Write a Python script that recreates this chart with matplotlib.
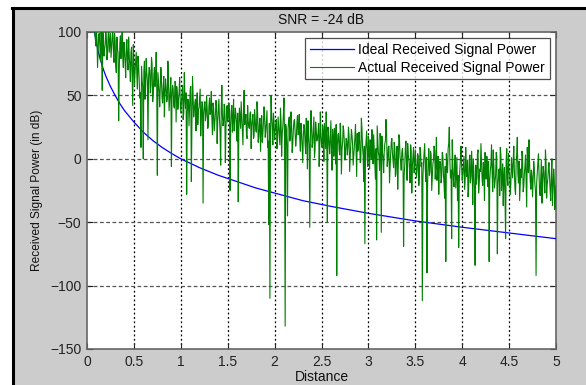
import numpy as np
import matplotlib
matplotlib.use("Agg")
import matplotlib.pyplot as plt
from matplotlib.patches import Rectangle
from matplotlib.lines import Line2D

plt.rcParams['font.family'] = ['Liberation Sans', 'DejaVu Sans']

# ---- data ----
ideal_distance = [0.075, 0.08, 0.09, 0.1, 0.12, 0.14, 0.16, 0.18, 0.2, 0.25, 0.3, 0.35,
                  0.4, 0.5, 0.6, 0.7, 0.8, 0.9, 1.0, 1.2, 1.4, 1.6, 1.8, 2.0, 2.3,
                  2.6, 3.0, 3.5, 4.0, 4.5, 5.0]
ideal_power = [103, 100, 95.5, 91.6, 84.7, 78.9, 73.8, 69.4, 65.4, 57, 50, 43.5,
               38, 29, 21, 14.5, 9, 4.3, 0, -7, -13, -18, -23, -27, -33,
               -37.5, -43, -49, -54, -58.5, -63]

# samples on the 0.0125 grid
actual_power_main = [
    140, 125, 132, 118, 121, 110, 96, 104, 72, 98, 88, 101, 54, 95, 86, 102, 78, 97, 84, 99,
    88, 104, 76, 93, 68, 86, 30, 91, 79, 101, 72, 85, 64, 94, 70, 82, 61, 88, 42, 78,
    69, 84, 55, 74, 48, 9, 62, 0, 77, 58, 68, 15, 72, 52, 80, 45, 66, 57, 84, -13,
    60, 41, 72, 48, 57, 33, 63, 45, 77, 38, 55, -6, 58, 42, 61, 29, 52, 47, 64, 36,
    50, 31, 68, 40, -28, 47, 26, 55, -18, 65, 33, 44, 22, 52, 39, 48, 18, 45, -35, 41,
    30, 49, 24, 42, 35, 53, 19, 40, 28, 46, 12, 38, 31, -5, 58, 26, 43, -3, 36, 29,
    44, -25, 38, 21, 47, 27, 35, 14, -34, 40, 24, 33, 11, 54, 30, 19, 42, 25, 36, 8,
    31, 16, 39, 22, 45, 13, 28, 6, 34, 20, 41, 17, 30, 9, -52, -110, 50, 24, 36, 15,
    27, 8, 33, 18, 40, 2, 25, 48, -132, 21, -45, 30, 14, 37, 5, 23, 31, 10, 28, 19,
    35, 6, 22, -3, 27, 12, 32, -8, 18, -54, 38, 9, 24, 1, 29, 14, 20, -6, 37, 11,
    26, -2, 17, 37, -50, 21, 4, 30, -9, 15, 24, -4, -92, 19, 7, 28, -12, 13, 22, -1,
    16, 3, 25, -10, 11, 19, -5, 8, 27, -14, 6, 21, -3, 32, 9, -18, -67, 14, 0, 18,
    -8, 10, 23, -4, 7, -16, -64, 15, 2, 20, -58, 5, -11, 12, 31, -6, 9, -19, 4, 16,
    -2, 13, -14, 6, -24, 19, 1, -9, 8, -69, -5, 14, -17, 3, -8, 11, -27, 2, -11, 7,
    -15, 4, -21, 9, -6, -112, -3, 12, -18, -90, -1, -13, 6, -25, -4, 10, -16, 17, -9, -28,
    -2, -19, 5, -12, -31, -81, -7, 8, 25, -15, -63, -4, -22, 3, -10, -33, -70, -8, 10, -17,
    -5, -24, 9, -14, -30, -2, -19, 6, -36, -11, -84, -20, 4, -27, -8, 12, -17, -3, -33, -13,
    2, -22, -81, -9, 11, -26, -6, -18, 5, -75, -12, -29, 3, -16, -37, -7, -63, 8, -21, -10,
    -28, 1, -15, 10, -24, -4, 17, -19, -33, -8, 6, -26, -12, 3, -38, -5, 15, -17, -9, -30,
    -2, -20, -92, -11, 4, -27, -14, -35, -6, -22, 7, -31, -16, -3, -25, -12, -37, -8, -40, -21,
]
# samples half-way between them
actual_power_mid = [
    135, 128, 120, 126, 112, 108, 101, 89, 94, 85, 99, 77, 92, 100, 81, 90, 95, 83, 103, 91,
    80, 95, 85, 99, 74, 96, 84, 70, 97, 87, 80, 92, 76, 88, 77, 96, 73, 84, 66, 90,
    58, 76, 66, 81, 63, 52, 73, 56, 69, 47, 79, 61, 64, 70, 58, 75, 51, 72, 63, 55,
    68, 53, 58, 62, 44, 65, 51, 56, 48, 61, 46, 64, 50, 55, 40, 60, 57, 39, 51, 46,
    43, 58, 36, 49, 52, 35, 46, 41, 57, 29, 50, 38, 47, 43, 27, 40, 55, 33, 44, 36,
    45, 34, 39, 27, 48, 37, 32, 44, 22, 35, 41, 30, 47, 21, 39, 34, 29, 40, 24, 42,
    33, 37, 26, 42, 31, 22, 40, 29, 36, 25, 32, 45, 20, 38, 27, 35, 16, 30, 24, 37,
    26, 35, 18, 30, 21, 37, 17, 32, 25, 13, 29, 33, 22, 38, 14, 28, 19, 34, 11, 30,
    22, 31, 14, 26, 11, 29, 20, 35, 16, 27, 9, 24, 33, 18, 26, 12, 30, 21, 16, 34,
    20, 15, 28, 9, 18, 24, 4, 21, 30, 11, 17, 26, 13, 33, 7, 23, 16, 28, 10, 19,
    9, 20, 28, 8, 14, 25, 11, 18, 6, 23, 2, 17, 27, 10, 20, 3, 16, 8, 26, 12,
    6, 14, 9, 18, 1, 23, 12, 2, 17, 5, 20, 11, 14, -2, 24, 3, 10, 6, 22, -6,
    7, 15, 0, 12, 19, -3, 8, 26, 5, -9, 11, 18, 1, 6, 14, 21, -2, 10, -7, 13,
    4, -7, 9, -12, 10, -5, 16, -2, 5, 1, -13, 8, -4, 12, -1, -19, 6, -6, 9, -3,
    -4, -10, 2, -12, 6, -3, -14, 5, -8, 1, -20, 8, -10, 3, -15, -1, 7, -5, -17, 2,
    -8, -4, -14, 2, -20, -6, 4, -11, 12, -2, -9, 15, -17, -5, -23, 1, -13, -19, 0, -6,
    -12, 2, -18, -9, -1, -23, 3, -14, -7, 0, -24, -5, -15, 7, -19, -10, -2, -21, -8, 5,
    -16, -6, -2, -17, -4, -11, 7, -23, -13, 2, -20, -8, 9, -25, -4, -14, -30, -1, -17, 4,
    -13, -20, -7, -1, -10, -28, 4, -12, -2, -21, -15, 1, -22, -6, -17, 9, -11, -3, -24, -14,
    -16, -8, -25, -19, -4, -13, -29, -1, -17, -10, -27, -3, -20, -8, -14, -33, 0, -24, -15, -28,
]

title_text = "SNR = -24 dB"
xlabel_text = "Distance"
ylabel_text = "Received Signal Power (in dB)"
legend_labels = ["Ideal Received Signal Power", "Actual Received Signal Power"]
xticks = [0, 0.5, 1, 1.5, 2, 2.5, 3, 3.5, 4, 4.5, 5]
xticklabels = ["0", "0.5", "1", "1.5", "2", "2.5", "3", "3.5", "4", "4.5", "5"]
yticks = [-150, -100, -50, 0, 50, 100]

# interleave the two sample sets along the distance axis
step = 0.0125
dist_main = (np.arange(len(actual_power_main)) + 1) * step
dist_mid = (np.arange(len(actual_power_mid)) + 0.5) * step
actual_distance = np.column_stack((dist_mid, dist_main)).ravel()
actual_power = np.column_stack((actual_power_mid, actual_power_main)).ravel()

# ---- figure ----
W, H = 586, 385
fig = plt.figure(figsize=(W / 100, H / 100), dpi=100, facecolor='white')

bg = Rectangle((13 / W, -0.05), 1.0, (H - 8) / H + 0.05, transform=fig.transFigure,
               facecolor='#cccccc', edgecolor='none', zorder=-10)
fig.add_artist(bg)
fig.add_artist(Line2D([12 / W, 1.05], [(H - 8) / H, (H - 8) / H], transform=fig.transFigure,
                      color='black', lw=2.2, zorder=-9))
fig.add_artist(Line2D([13 / W, 13 / W], [-0.05, (H - 8) / H], transform=fig.transFigure,
                      color='black', lw=2.2, zorder=-9))

left, right, top, bottom = 87, 556, 32, 349
ax = fig.add_axes([left / W, (H - bottom) / H, (right - left) / W, (bottom - top) / H])
ax.set_facecolor('white')

l1, = ax.plot(ideal_distance, ideal_power, color='#0000ff', lw=0.9, zorder=3)
l2, = ax.plot(actual_distance, actual_power, color='#008000', lw=0.8, zorder=4)

ax.set_xlim(0, 5)
ax.set_ylim(-150, 100)
ax.set_xticks(xticks)
ax.set_xticklabels(xticklabels)
ax.set_yticks(yticks)

for xv in xticks[1:-1]:
    ax.axvline(xv, color='black', lw=0.9, linestyle=(0, (1.5, 2)), zorder=1)
for yv in yticks[1:-1]:
    ax.axhline(yv, color='#555555', lw=0.9, linestyle=(0, (3, 2)), zorder=1)

ax.tick_params(direction='in', length=4, width=0.8, top=True, right=True,
               labelsize=10, colors='#222222', pad=4)
for s in ax.spines.values():
    s.set_color('#666666')
    s.set_linewidth(1.2)

ax.set_title(title_text, fontsize=10, pad=6, color='#111111')
ax.set_xlabel(xlabel_text, fontsize=10, labelpad=1, color='#111111')
ax.set_ylabel(ylabel_text, fontsize=8.6, labelpad=5, color='#111111')

leg = ax.legend([l1, l2], legend_labels, loc='upper right', fontsize=10,
                frameon=True, fancybox=False, borderpad=0.35, handlelength=3.2,
                handletextpad=0.3, labelspacing=0.25, borderaxespad=0.45)
leg.get_frame().set_edgecolor('#222222')
leg.get_frame().set_linewidth(0.9)
leg.set_zorder(10)

fig.savefig('out.png', dpi=100, facecolor=fig.get_facecolor())
